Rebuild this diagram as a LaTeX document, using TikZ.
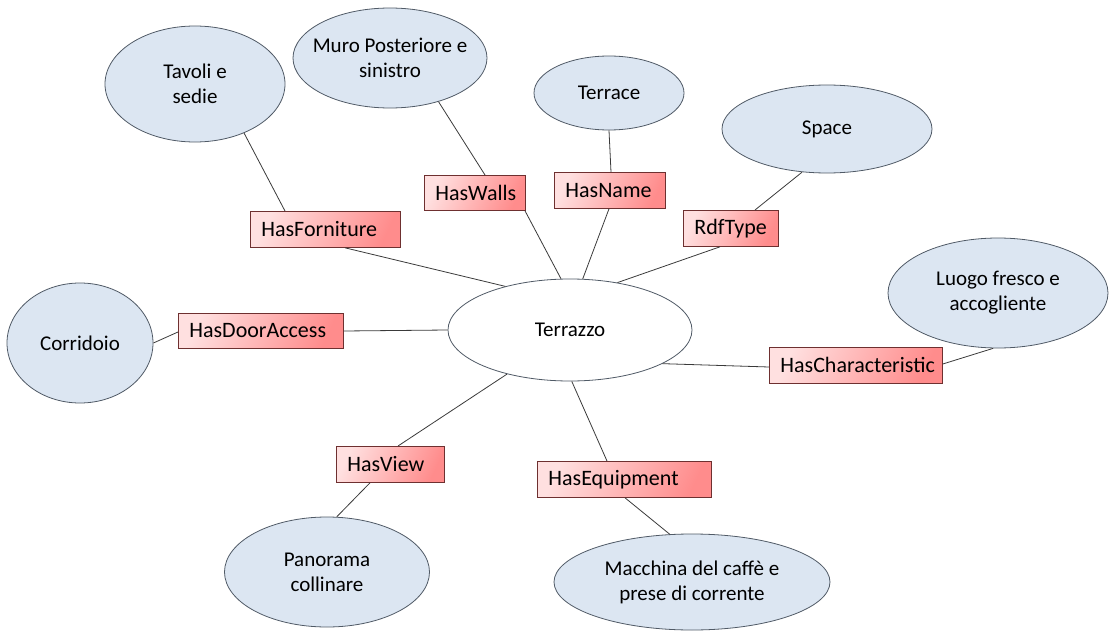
\documentclass[tikz,border=0pt]{standalone}
\usepackage{fontspec}
\setmainfont{Carlito}
\usetikzlibrary{shapes.geometric,calc}
\definecolor{ellfill}{HTML}{DCE6F2}
\definecolor{ellline}{HTML}{505A66}
\definecolor{boxA}{HTML}{FFE0E0}
\definecolor{boxB}{HTML}{FF8C8C}
\definecolor{boxline}{HTML}{6E3030}
\definecolor{conn}{HTML}{3A3A3A}
\tikzset{
  concept/.style={ellipse, draw=ellline, line width=0.8pt, fill=ellfill, align=center, font=\fontsize{21}{25}\selectfont, inner sep=0pt},
  relbox/.style={rectangle, draw=boxline, line width=0.8pt, left color=boxA, right color=boxB, shading angle=65, font=\fontsize{22}{25}\selectfont, inner xsep=11pt, inner ysep=0pt, align=left, anchor=north west},
  link/.style={draw=conn, line width=0.8pt},
}
\begin{document}
\begin{tikzpicture}[x=1pt,y=-1pt]
\useasboundingbox (0,0) rectangle (1112,634);
% central
\node[ellipse, draw=ellline, line width=0.8pt, fill=white, minimum width=244pt, minimum height=102pt, font=\fontsize{21}{25}\selectfont] (terr) at (570,330) {Terrazzo};
% concepts
\node[concept, minimum width=180pt, minimum height=116pt] (tav) at (195,84) {Tavoli e\\sedie};
\node[concept, minimum width=194pt, minimum height=100pt, inner xsep=-14pt, inner ysep=-6pt] (muro) at (390,58) {Muro Posteriore e\\sinistro};
\node[concept, minimum width=150pt, minimum height=74pt] (terrace) at (609,93) {Terrace};
\node[concept, minimum width=210pt, minimum height=88pt] (space) at (827,129) {Space};
\node[concept, minimum width=220pt, minimum height=110pt] (luogo) at (998,293) {Luogo fresco e\\accogliente};
\node[concept, minimum width=146pt, minimum height=120pt] (corr) at (80,343) {Corridoio};
\node[concept, minimum width=205pt, minimum height=110pt] (pan) at (327,572) {Panorama\\collinare};
\node[concept, minimum width=276pt, minimum height=96pt] (mac) at (692,582) {Macchina del caffè e\\prese di corrente};
% boxes
\node[relbox, text width=128pt, minimum height=36pt] (hf) at (250,211) {HasForniture};
\node[relbox, text width=79pt, minimum height=35pt] (hw) at (424,175) {HasWalls};
\node[relbox, text width=89pt, minimum height=36pt] (hn) at (554,172) {HasName};
\node[relbox, text width=73pt, minimum height=36pt] (rt) at (683,210) {RdfType};
\node[relbox, text width=143pt, minimum height=35pt] (hd) at (178,313) {HasDoorAccess};
\node[relbox, text width=151pt, minimum height=36pt] (hc) at (769,347) {HasCharacteristic};
\node[relbox, text width=86pt, minimum height=36pt] (hv) at (336,446) {HasView};
\node[relbox, text width=152pt, minimum height=36pt] (he) at (537,461) {HasEquipment};
% connectors
\draw[link] (tav.-45) -- ($(hf.north west)+(35,0)$);
\draw[link] ($(hf.south west)+(95,0)$) -- (terr.146);
\draw[link] (muro.-42) -- ($(hw.north west)+(61,0)$);
\draw[link] ($(hw.south west)+(101,0)$) -- (terr.100);
\draw[link] (terrace.south) -- ($(hn.north west)+(57,0)$);
\draw[link] ($(hn.south west)+(55,0)$) -- (terr.76);
\draw[link] (space.-120) -- ($(rt.north west)+(72,0)$);
\draw[link] ($(rt.south west)+(37,0)$) -- (terr.45);
\draw[link] (corr.east) -- ($(hd.north west)+(0,19)$);
\draw[link] ($(hd.north east)+(0,18)$) -- (terr.west);
\draw[link] (luogo.-95) -- ($(hc.north east)+(0,17)$);
\draw[link] ($(hc.north west)+(0,20)$) -- (terr.-20);
\draw[link] (terr.-145) -- ($(hv.north west)+(62,0)$);
\draw[link] ($(hv.south west)+(34,0)$) -- (pan.80);
\draw[link] (terr.-88) -- ($(he.north west)+(70,0)$);
\draw[link] ($(he.south west)+(88,0)$) -- (mac.115);
\end{tikzpicture}
\end{document}
